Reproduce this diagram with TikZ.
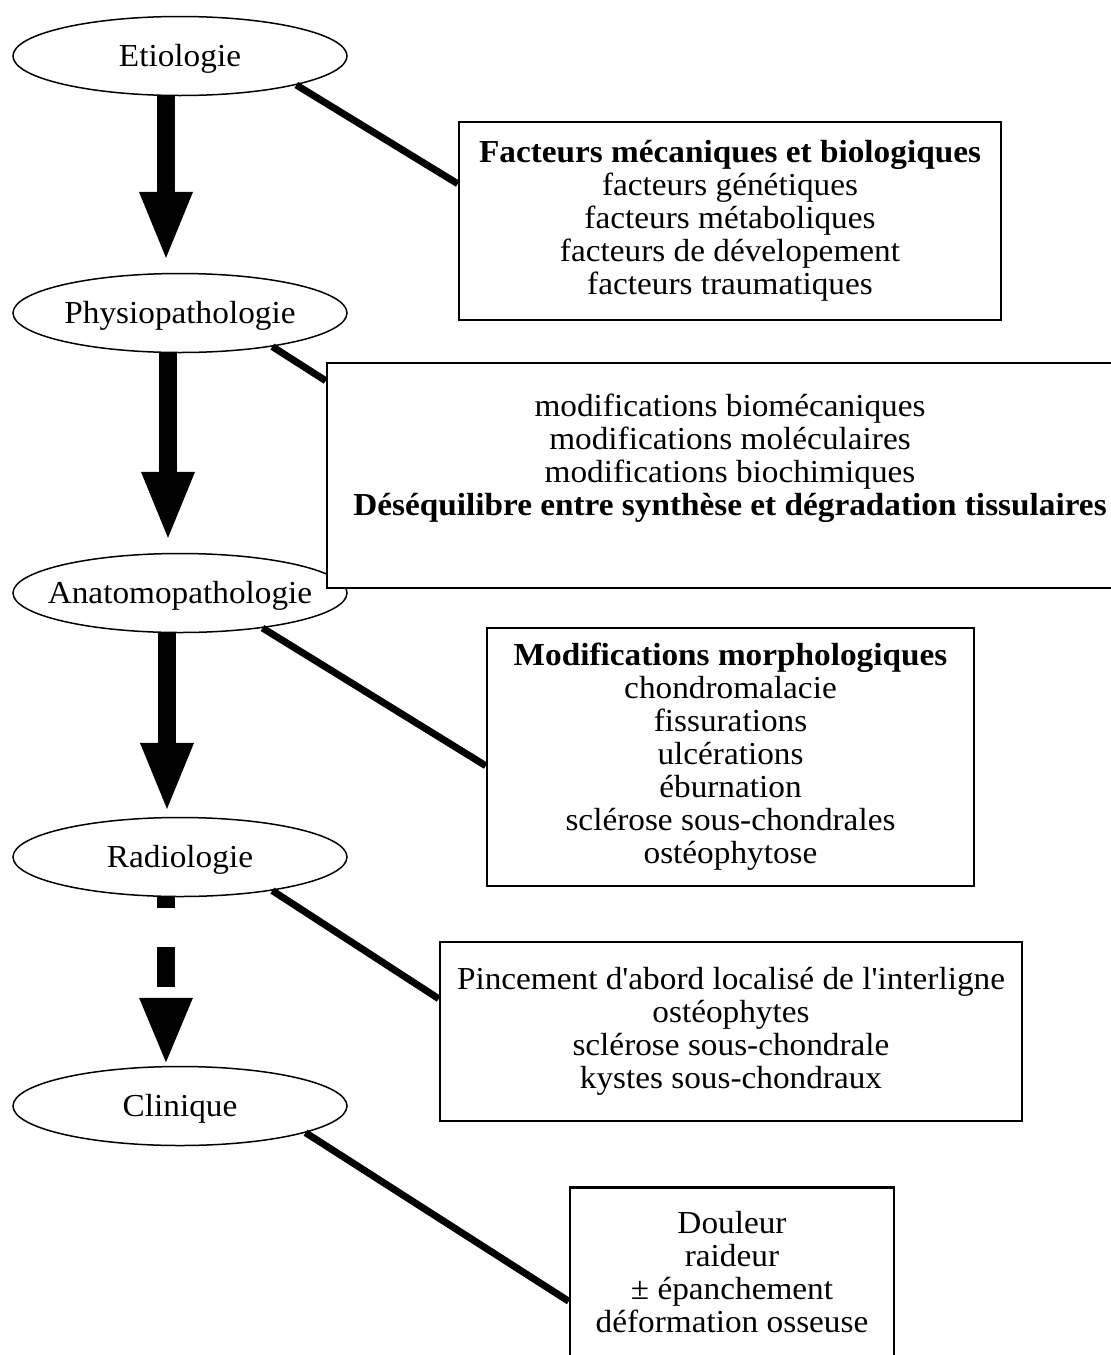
\documentclass[tikz,border=0pt]{standalone}
\usepackage{fontspec}
\setmainfont{Liberation Serif}[FakeStretch=1.04, Ligatures=TeXOff]
\usetikzlibrary{arrows.meta,shapes.geometric}
\begin{document}
\begin{tikzpicture}[x=1pt,y=-1pt,
  stage/.style={ellipse, draw, line width=1.5pt, fill=white, minimum width=334pt, minimum height=79pt, inner xsep=-60pt, inner ysep=0pt, text height=21pt, text depth=0pt, font=\fontsize{32}{33}\selectfont},
  infobox/.style={rectangle, draw, line width=2.5pt, fill=white, align=center, inner sep=0pt, font=\fontsize{32}{33}\selectfont},
  boxtext/.style={align=center, inner sep=0pt, font=\fontsize{32}{33}\selectfont},
  link/.style={line width=7pt},
  flow/.style={line width=18pt, -{Triangle[width=48pt,length=70pt]}},
  dashflow/.style={line width=18pt, dash pattern=on 11pt off 39pt on 40pt off 40pt, -{Triangle[width=48pt,length=68pt]}},
]
\useasboundingbox[fill=white] (0,0) rectangle (1111,1355);

\node[stage] (e1) at (180,56) {Etiologie};
\node[stage] (e2) at (180,313) {Physiopathologie};
\node[stage] (e3) at (180,593) {Anatomopathologie};
\node[stage] (e4) at (180,857) {Radiologie};
\node[stage] (e5) at (180,1106) {Clinique};

\node[infobox, minimum width=542pt, minimum height=198pt] (b1) at (730,221)
  {\textbf{Facteurs mécaniques et biologiques}\\facteurs génétiques\\facteurs métaboliques\\facteurs de dévelopement\\facteurs traumatiques};
\node[infobox, minimum width=806pt, minimum height=225pt] (b2) at (730,475.5) {};
\node[boxtext] (t2) at (730,458)
  {modifications biomécaniques\\modifications moléculaires\\modifications biochimiques\\\textbf{Déséquilibre entre synthèse et dégradation tissulaires}};
\node[infobox, minimum width=487pt, minimum height=258pt] (b3) at (730.5,757)
  {\textbf{Modifications morphologiques}\\chondromalacie\\fissurations\\ulcérations\\éburnation\\sclérose sous-chondrales\\ostéophytose};
\node[infobox, minimum width=582pt, minimum height=179pt] (b4) at (731,1031.5)
  {Pincement d'abord localisé de l'interligne\\ostéophytes\\sclérose sous-chondrale\\kystes sous-chondraux};
\node[infobox, minimum width=324pt, minimum height=169pt] (b5) at (732,1272)
  {Douleur\\raideur\\± épanchement\\déformation osseuse};

\draw[flow, shorten >=11pt] ([xshift=-14pt]e1.south) -- ([xshift=-14pt]e2.north);
\draw[flow, shorten >=11pt] ([xshift=-12pt]e2.south) -- ([xshift=-12pt]e3.north);
\draw[flow, shorten >=4pt] ([xshift=-13pt]e3.south) -- ([xshift=-13pt]e4.north);
\draw[dashflow] ([xshift=-14pt]e4.south) -- ([xshift=-14pt]e5.north);

\draw[link] (e1.-14.4) -- ([yshift=-63pt]b1.north west);
\draw[link] (e2.-20.3) -- ([yshift=-19pt]b2.north west);
\draw[link] (e3.-23) -- ([yshift=-139pt]b3.north west);
\draw[link] (e4.-20.8) -- ([yshift=-58pt]b4.north west);
\draw[link] (e5.-12.4) -- ([yshift=-115pt]b5.north west);
\end{tikzpicture}
\end{document}
